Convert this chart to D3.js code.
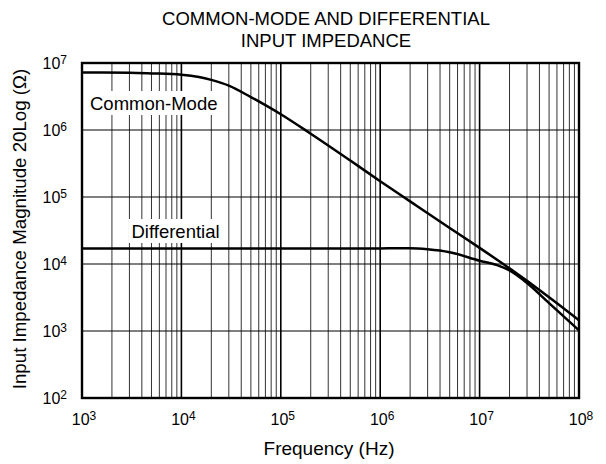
<!DOCTYPE html>
<html>
<head>
<meta charset="utf-8">
<script src="https://cdn.jsdelivr.net/npm/d3@7"></script>
<style>
  body { margin: 0; background: #fff; }
  text { font-family: "Liberation Sans", Arial, sans-serif; fill: #000; }
</style>
</head>
<body>
<script>
// values
const cmFreqs = [1e3, 3e3, 5e3, 1e4, 1.5e4, 2e4, 3e4, 5e4, 7e4, 1e5, 2e5, 5e5, 1e6, 2e6, 5e6, 1e7, 2e7, 5e7, 1e8];
const commonMode = [7.2e6, 7.15e6, 7.0e6, 6.7e6, 6.2e6, 5.6e6, 4.6e6, 3.1e6, 2.35e6, 1.72e6, 8.8e5, 3.5e5, 1.72e5, 8.6e4, 3.45e4, 1.74e4, 8.6e3, 3.2e3, 1.45e3];
const diffFreqs = [1e3, 1e4, 1e5, 1e6, 1.5e6, 2e6, 3e6, 5e6, 1e7, 1.5e7, 2e7, 3e7, 5e7, 1e8];
const differential = [1.7e4, 1.7e4, 1.7e4, 1.71e4, 1.72e4, 1.72e4, 1.66e4, 1.5e4, 1.12e4, 9.6e3, 8.0e3, 5.2e3, 2.6e3, 1.02e3];
const xExps = [3, 4, 5, 6, 7, 8];
const yExps = [2, 3, 4, 5, 6, 7];
const titleLines = ['COMMON-MODE AND DIFFERENTIAL', 'INPUT IMPEDANCE'];

const width = 606, height = 464;
const margin = {top: 63, right: 27, bottom: 66, left: 82};

const svg = d3.select('body').append('svg')
	.attr('width', width)
	.attr('height', height);

const x = d3.scaleLog()
	.domain([1e3, 1e8])
	.range([margin.left, width - margin.right]);

const y = d3.scaleLog()
	.domain([1e2, 1e7])
	.range([height - margin.bottom, margin.top]);

// minor vertical gridlines (2..9 in every decade)
const minor = [];
for (let e = 3; e < 8; e++)
	for (let m = 2; m <= 9; m++) minor.push(m * Math.pow(10, e));

const grid = svg.append('g');
grid.selectAll('line.minor')
	.data(minor)
	.enter().append('line')
	.attr('x1', d => x(d)).attr('x2', d => x(d))
	.attr('y1', y(1e7)).attr('y2', y(1e2))
	.attr('stroke', '#333')
	.attr('stroke-width', 1);

grid.selectAll('line.vmaj')
	.data(xExps)
	.enter().append('line')
	.attr('x1', d => x(Math.pow(10, d))).attr('x2', d => x(Math.pow(10, d)))
	.attr('y1', y(1e7)).attr('y2', y(1e2))
	.attr('stroke', '#000')
	.attr('stroke-width', 1.6);

grid.selectAll('line.hmaj')
	.data(yExps)
	.enter().append('line')
	.attr('x1', x(1e3)).attr('x2', x(1e8))
	.attr('y1', d => y(Math.pow(10, d))).attr('y2', d => y(Math.pow(10, d)))
	.attr('stroke', '#000')
	.attr('stroke-width', 1);

// series labels sit on white boxes that cut the grid
function boxLabel(txt, lx, ly) {
	const g = svg.append('g');
	const t = g.append('text')
		.attr('x', lx).attr('y', ly)
		.attr('font-size', 18.5)
		.text(txt);
	const b = t.node().getBBox();
	g.insert('rect', 'text')
		.attr('x', b.x - 3).attr('y', b.y - 1.5)
		.attr('width', b.width + 6).attr('height', b.height + 3)
		.attr('fill', '#fff');
}
boxLabel('Common-Mode', 90, 109.5);
boxLabel('Differential', 131.5, 237.5);

const line = d3.line()
	.x(d => x(d[0]))
	.y(d => y(d[1]))
	.curve(d3.curveMonotoneX);

svg.append('path')
	.datum(d3.zip(cmFreqs, commonMode))
	.attr('d', line)
	.attr('fill', 'none')
	.attr('stroke', '#000')
	.attr('stroke-width', 2.5);

svg.append('path')
	.datum(d3.zip(diffFreqs, differential))
	.attr('d', line)
	.attr('fill', 'none')
	.attr('stroke', '#000')
	.attr('stroke-width', 2.5);

// frame
svg.append('rect')
	.attr('x', x(1e3)).attr('y', y(1e7))
	.attr('width', x(1e8) - x(1e3))
	.attr('height', y(1e2) - y(1e7))
	.attr('fill', 'none')
	.attr('stroke', '#000')
	.attr('stroke-width', 2.4);

// tick labels: 10 with superscript exponent
function powLabel(sel) {
	sel.append('tspan').text('10');
	sel.append('tspan')
		.attr('dy', -5)
		.attr('font-size', 12)
		.text(d => d);
}

svg.selectAll('text.ylab')
	.data(yExps)
	.enter().append('text')
	.attr('class', 'ylab')
	.attr('x', 67)
	.attr('y', d => y(Math.pow(10, d)) + 5.5)
	.attr('text-anchor', 'end')
	.attr('font-size', 16)
	.call(powLabel);

svg.selectAll('text.xlab')
	.data(xExps)
	.enter().append('text')
	.attr('class', 'xlab')
	.attr('x', d => x(Math.pow(10, d)) + 2)
	.attr('y', 425)
	.attr('text-anchor', 'middle')
	.attr('font-size', 16)
	.call(powLabel);

svg.selectAll('text.title')
	.data(titleLines)
	.enter().append('text')
	.attr('x', 326)
	.attr('y', (d, i) => 25 + i * 21.7)
	.attr('text-anchor', 'middle')
	.attr('font-size', 18.5)
	.text(d => d);

svg.append('text')
	.attr('x', 329)
	.attr('y', 455)
	.attr('text-anchor', 'middle')
	.attr('font-size', 19)
	.text('Frequency (Hz)');

svg.append('text')
	.attr('transform', `translate(26,229) rotate(-90)`)
	.attr('text-anchor', 'middle')
	.attr('font-size', 18.7)
	.text('Input Impedance Magnitude 20Log (Ω)');
</script>
</body>
</html>
